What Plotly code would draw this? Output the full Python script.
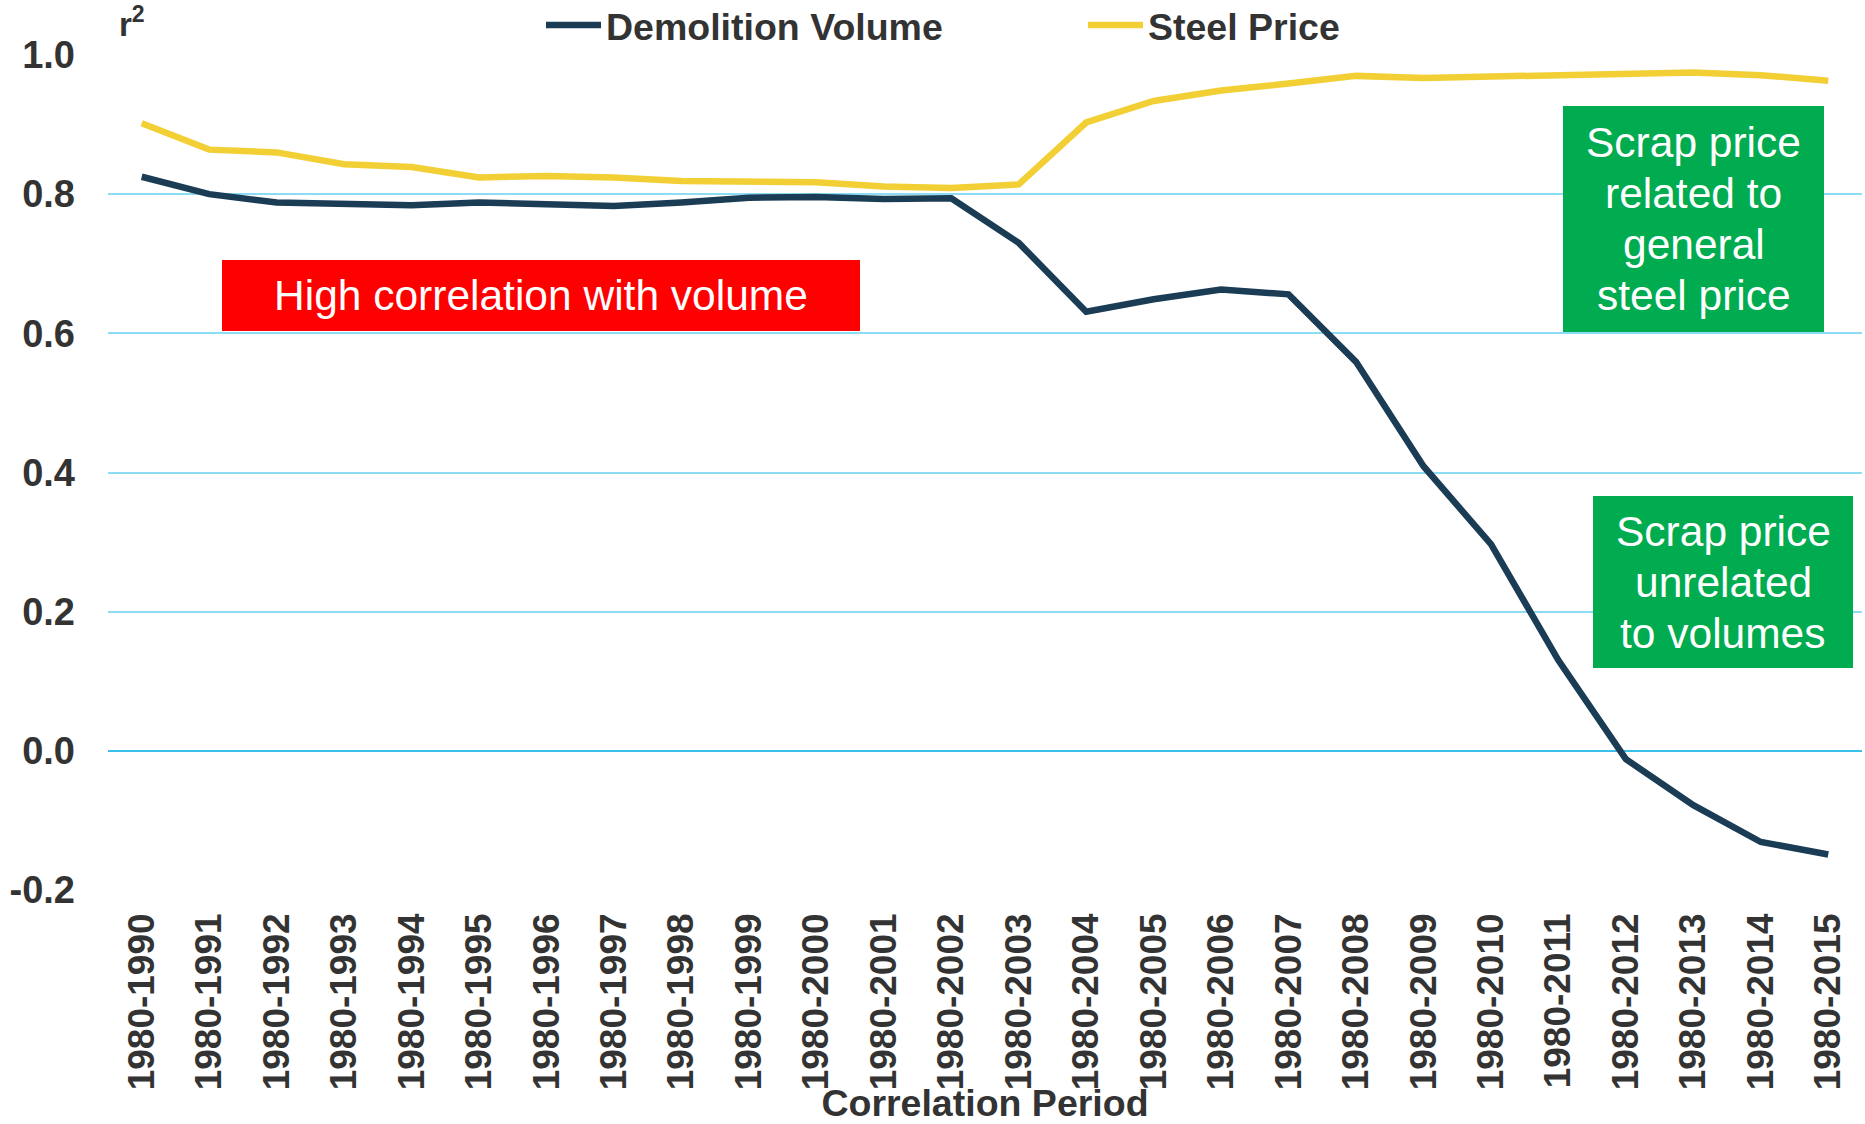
import plotly.graph_objects as go

periods = ["1980-1990", "1980-1991", "1980-1992", "1980-1993", "1980-1994", "1980-1995",
           "1980-1996", "1980-1997", "1980-1998", "1980-1999", "1980-2000", "1980-2001",
           "1980-2002", "1980-2003", "1980-2004", "1980-2005", "1980-2006", "1980-2007",
           "1980-2008", "1980-2009", "1980-2010", "1980-2011", "1980-2012", "1980-2013",
           "1980-2014", "1980-2015"]

demolition_volume = [0.825, 0.800, 0.788, 0.786, 0.784, 0.788, 0.786, 0.783, 0.788, 0.795,
                     0.796, 0.793, 0.794, 0.730, 0.631, 0.649, 0.663, 0.656, 0.559, 0.409,
                     0.297, 0.130, -0.012, -0.078, -0.131, -0.149]

steel_price = [0.902, 0.864, 0.860, 0.843, 0.839, 0.824, 0.826, 0.824, 0.819, 0.817,
               0.817, 0.811, 0.809, 0.814, 0.903, 0.934, 0.949, 0.959, 0.970, 0.967,
               0.969, 0.973, 0.975, 0.975, 0.971, 0.963]

y_ticks = [-0.2, 0.0, 0.2, 0.4, 0.6, 0.8, 1.0]
y_tick_text = ["-0.2", "0.0", "0.2", "0.4", "0.6", "0.8", "1.0"]

W, H = 1865, 1124
L, R, T, B = 108, 1862, 55, 890  # plot area in pixels

def px(x):
    return (x - L) / (R - L)

def py(y):
    return (B - y) / (B - T)

FONT = "Liberation Sans, Arial, sans-serif"
TXT = "#333333"

fig = go.Figure()
fig.add_trace(go.Scatter(x=periods, y=demolition_volume, mode="lines", name="Demolition Volume",
                         line=dict(color="#1B3C55", width=6.5)))
fig.add_trace(go.Scatter(x=periods, y=steel_price, mode="lines", name="Steel Price",
                         line=dict(color="#F2D035", width=6.5)))

shapes = []
annotations = []

LINE_H = 51
boxes = [
    (["High correlation with volume"], 222, 260, 860, 331, "#FF0000"),
    (["Scrap price", "related to", "general", "steel price"], 1563, 106, 1824, 332, "#00AC4F"),
    (["Scrap price", "unrelated", "to volumes"], 1593, 496, 1853, 668, "#00AC4F"),
]
for lines, x0, y0, x1, y1, col in boxes:
    shapes.append(dict(type="rect", xref="paper", yref="paper",
                       x0=px(x0), x1=px(x1), y0=py(y1), y1=py(y0),
                       fillcolor=col, line=dict(width=0), layer="above"))
    cx, cy = (x0 + x1) / 2, (y0 + y1) / 2
    n = len(lines)
    for i, t in enumerate(lines):
        ly = cy + (i - (n - 1) / 2) * LINE_H
        annotations.append(dict(text=t, xref="paper", yref="paper",
                                x=px(cx), y=py(ly),
                                xanchor="center", yanchor="middle", showarrow=False,
                                font=dict(family=FONT, size=42.5, color="white")))

annotations.append(dict(text="r<sup>2</sup>", xref="paper", yref="paper",
                        x=px(117), y=py(22), xanchor="left", yanchor="middle",
                        showarrow=False, font=dict(family=FONT, size=33, color=TXT, weight="bold")))

fig.update_layout(
    width=W, height=H,
    margin=dict(l=L, r=W - R, t=T, b=H - B, autoexpand=False),
    plot_bgcolor="white", paper_bgcolor="white",
    showlegend=True,
    legend=dict(orientation="h", xref="container", yref="container",
                x=541 / W, y=1 - 25 / H, xanchor="left", yanchor="middle",
                font=dict(family=FONT, size=37.5, color=TXT, weight="bold"),
                itemwidth=55, entrywidth=472, entrywidthmode="pixels",
                bgcolor="rgba(0,0,0,0)"),
    xaxis=dict(type="category", range=[-0.5, len(periods) - 0.5], showgrid=False,
               showline=False, zeroline=False, tickangle=-90, ticks="",
               ticklabelstandoff=15, automargin=False,
               tickfont=dict(family=FONT, size=37, color=TXT, weight="bold"),
               title=dict(text="Correlation Period", standoff=0,
                          font=dict(family=FONT, size=37.5, color=TXT, weight="bold"))),
    yaxis=dict(range=[-0.2, 1.0], tickvals=y_ticks, ticktext=y_tick_text,
               showgrid=True, gridcolor="#8CDCF4", gridwidth=2,
               zeroline=True, zerolinecolor="#3DBFEB", zerolinewidth=2,
               showline=False, ticks="", ticklabelstandoff=32, automargin=False,
               tickfont=dict(family=FONT, size=38, color=TXT, weight="bold")),
    shapes=shapes,
    annotations=annotations,
    hovermode=False,
)

fig.write_html("out.html", config={"displayModeBar": False},
               post_script="document.body.style.margin='0px';")
